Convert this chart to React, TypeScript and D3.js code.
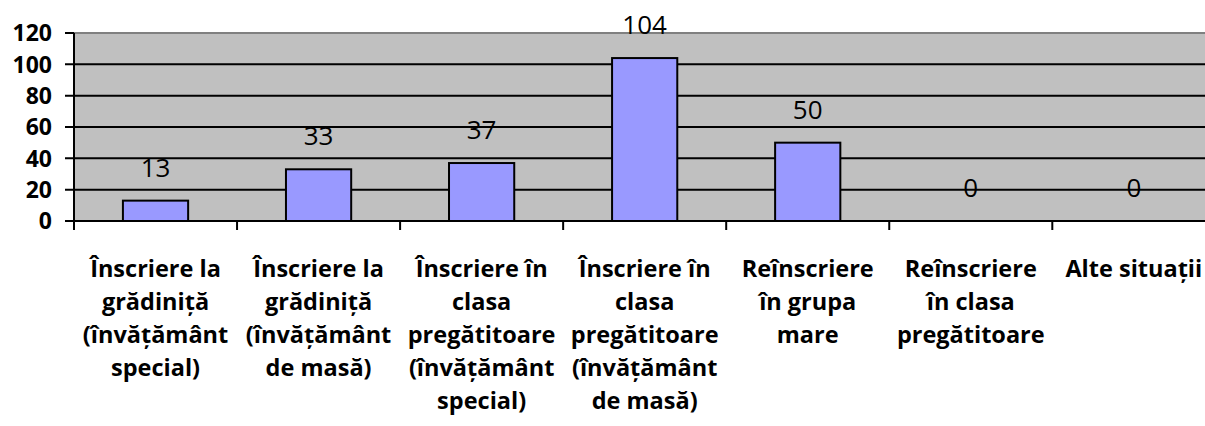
import React from "react";
import * as d3 from "d3";

const categories: string[][] = [
  ["Înscriere la", "grădiniță", "(învățământ", "special)"],
  ["Înscriere la", "grădiniță", "(învățământ", "de masă)"],
  ["Înscriere în", "clasa", "pregătitoare", "(învățământ", "special)"],
  ["Înscriere în", "clasa", "pregătitoare", "(învățământ", "de masă)"],
  ["Reînscriere", "în grupa", "mare"],
  ["Reînscriere", "în clasa", "pregătitoare"],
  ["Alte situații"],
];
const values: number[] = [13, 33, 37, 104, 50, 0, 0];
const yTicks: number[] = [0, 20, 40, 60, 80, 100, 120];

const W = 1205;
const H = 426;
const left = 74;
const top = 33;
const bottom = 221;
const step = 163.05;
const right = left + step * categories.length;

export default function App() {
  const x = d3
    .scaleBand<number>()
    .domain(categories.map((_, i) => i))
    .range([left, right])
    .paddingInner(0)
    .paddingOuter(0);
  const y = d3.scaleLinear().domain([0, 120]).range([bottom, top]);
  const bw = x.bandwidth() * 0.4;
  const font = "'Open Sans', Lato, sans-serif";

  return (
    <svg
      width={W}
      height={H}
      style={{ position: "absolute", left: 0, top: 0, background: "#fff" }}
    >
      <rect x={left} y={top} width={right - left} height={bottom - top} fill="#C0C0C0" />
      {yTicks.map((t) =>
        t === 120 ? (
          <line key={t} x1={left} x2={right} y1={y(t)} y2={y(t)} stroke="#808080" strokeWidth={2} />
        ) : (
          <line key={t} x1={left - 9} x2={right} y1={y(t)} y2={y(t)} stroke="#000" strokeWidth={2} />
        )
      )}
      <line x1={left - 9} x2={left} y1={y(120)} y2={y(120)} stroke="#000" strokeWidth={2} />
      {values.map((v, i) => (
        <rect
          key={i}
          x={(x(i) as number) + (x.bandwidth() - bw) / 2}
          y={y(v)}
          width={bw}
          height={y(0) - y(v)}
          fill="#9999FF"
          stroke="#000"
          strokeWidth={2}
        />
      ))}
      <line x1={left} x2={left} y1={top} y2={bottom + 9} stroke="#000" strokeWidth={2} />
      {categories.map((_, i) => (
        <line
          key={i}
          x1={(x(i) as number) + step}
          x2={(x(i) as number) + step}
          y1={bottom}
          y2={bottom + 9}
          stroke="#000"
          strokeWidth={2}
        />
      ))}
      {yTicks.map((t) => (
        <text
          key={t}
          x={52}
          y={y(t)}
          dy="0.36em"
          textAnchor="end"
          fontFamily={font}
          fontWeight={700}
          fontSize={23}
          fill="#000"
        >
          {t}
        </text>
      ))}
      {values.map((v, i) => (
        <text
          key={i}
          x={(x(i) as number) + x.bandwidth() / 2}
          y={y(v) - 24}
          textAnchor="middle"
          fontFamily={font}
          fontSize={26}
          fill="#000"
        >
          {v}
        </text>
      ))}
      {categories.map((lines, i) => (
        <text
          key={i}
          x={(x(i) as number) + x.bandwidth() / 2}
          y={277}
          textAnchor="middle"
          fontFamily={font}
          fontWeight={700}
          fontSize={23.5}
          fill="#000"
        >
          {lines.map((l, j) => (
            <tspan key={j} x={(x(i) as number) + x.bandwidth() / 2} y={277 + j * 33}>
              {l}
            </tspan>
          ))}
        </text>
      ))}
    </svg>
  );
}
